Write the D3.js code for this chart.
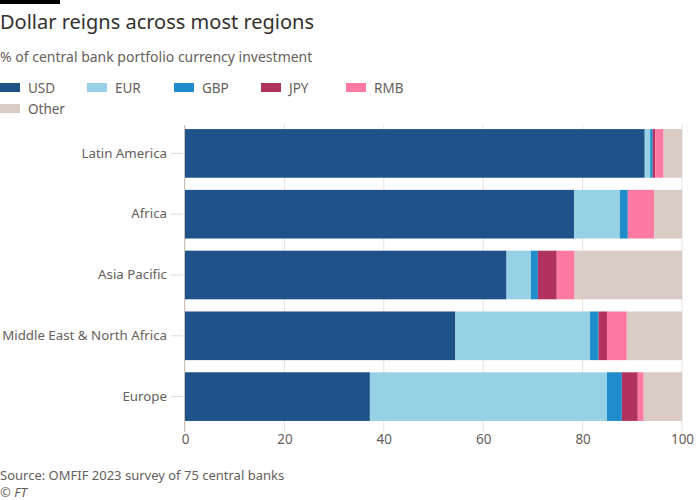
<!DOCTYPE html>
<html><head><meta charset="utf-8">
<script src="https://cdn.jsdelivr.net/npm/d3@7"></script>
<style>
body{margin:0;background:#fff;}
text{font-family:"Noto Sans",sans-serif;}
</style></head>
<body><svg id="c" width="700" height="500"></svg>
<script>
const regions = ["Latin America","Africa","Asia Pacific","Middle East & North Africa","Europe"];
const currencies = ["USD","EUR","GBP","JPY","RMB","Other"];
const USD   = [92.5, 78.3, 64.7, 54.4, 37.2];
const EUR   = [1.1, 9.2, 4.9, 27.1, 47.7];
const GBP   = [0.5, 1.6, 1.4, 1.7, 3.0];
const JPY   = [0.5, 0.0, 3.8, 1.7, 3.2];
const RMB   = [1.7, 5.3, 3.6, 4.0, 1.2];
const Other = [3.7, 5.6, 21.6, 11.1, 7.7];
const xTicks = [0,20,40,60,80,100];
const colors = ["#1f5289","#96d1e6","#1f8dcc","#b0325e","#ff7aa2","#d9ccc4"];

const series = [USD,EUR,GBP,JPY,RMB,Other];
const rows = regions.map((r,i)=>{const o={region:r};currencies.forEach((c,j)=>o[c]=series[j][i]);return o;});
const stack = d3.stack().keys(currencies)(rows);

const svg = d3.select("#c");
const textCol = "#66605c";

svg.append("rect").attr("x",0).attr("y",0).attr("width",60).attr("height",4).attr("fill","#000");
svg.append("text").attr("x",0).attr("y",29).attr("font-size",20).attr("fill","#33302e").text("Dollar reigns across most regions");
svg.append("text").attr("x",0).attr("y",62).attr("font-size",14).attr("fill",textCol).text("% of central bank portfolio currency investment");

// legend
const legPos = [[0,83],[87,83],[174,83],[261,83],[346,83],[0,104]];
currencies.forEach((c,i)=>{
  const g = svg.append("g").attr("transform",`translate(${legPos[i][0]},${legPos[i][1]})`);
  g.append("rect").attr("width",20).attr("height",9).attr("fill",colors[i]);
  g.append("text").attr("x",28).attr("y",9.5).attr("font-size",13.5).attr("fill",textCol).text(c);
});

const x = d3.scaleLinear().domain([0,100]).range([185,682]);
const y = d3.scaleBand().domain(regions).range([123,427]).paddingInner(0.2).paddingOuter(0.1);

// gridlines
svg.append("g").selectAll("line").data(xTicks).join("line")
  .attr("x1",d=>x(d)).attr("x2",d=>x(d)).attr("y1",125).attr("y2",432)
  .attr("stroke","#e6e2df").attr("stroke-width",1);

// bars
svg.append("g").selectAll("g").data(stack).join("g").attr("fill",(d,i)=>colors[i])
  .selectAll("rect").data(d=>d).join("rect")
  .attr("x",d=>x(d[0])).attr("width",d=>Math.max(0,x(d[1])-x(d[0])))
  .attr("y",d=>y(d.data.region)).attr("height",y.bandwidth());

// y axis line
svg.append("line").attr("x1",184.5).attr("x2",184.5).attr("y1",125).attr("y2",432).attr("stroke","#ccc1b7");

// y axis
const ya = svg.append("g").attr("transform","translate(184,0)").call(d3.axisLeft(y).tickSize(12).tickPadding(5));
ya.select(".domain").remove();
ya.selectAll("line").attr("stroke","#e0dbd6").attr("x2",-12).attr("transform","translate(-1,0)");
ya.selectAll("text").attr("font-size",13.3).attr("fill",textCol).attr("font-family","Noto Sans");

// x axis
const xa = svg.append("g").attr("transform","translate(0,426)").call(d3.axisBottom(x).tickValues(xTicks).tickSize(0).tickPadding(8));
xa.select(".domain").remove();
xa.selectAll("text").attr("font-size",13.5).attr("fill",textCol).attr("font-family","Noto Sans");

svg.append("text").attr("x",0).attr("y",480).attr("font-size",13).attr("fill",textCol).text("Source: OMFIF 2023 survey of 75 central banks");
svg.append("text").attr("x",0).attr("y",497).attr("font-size",13).attr("font-style","italic").attr("fill",textCol).text("© FT");
</script></body></html>
